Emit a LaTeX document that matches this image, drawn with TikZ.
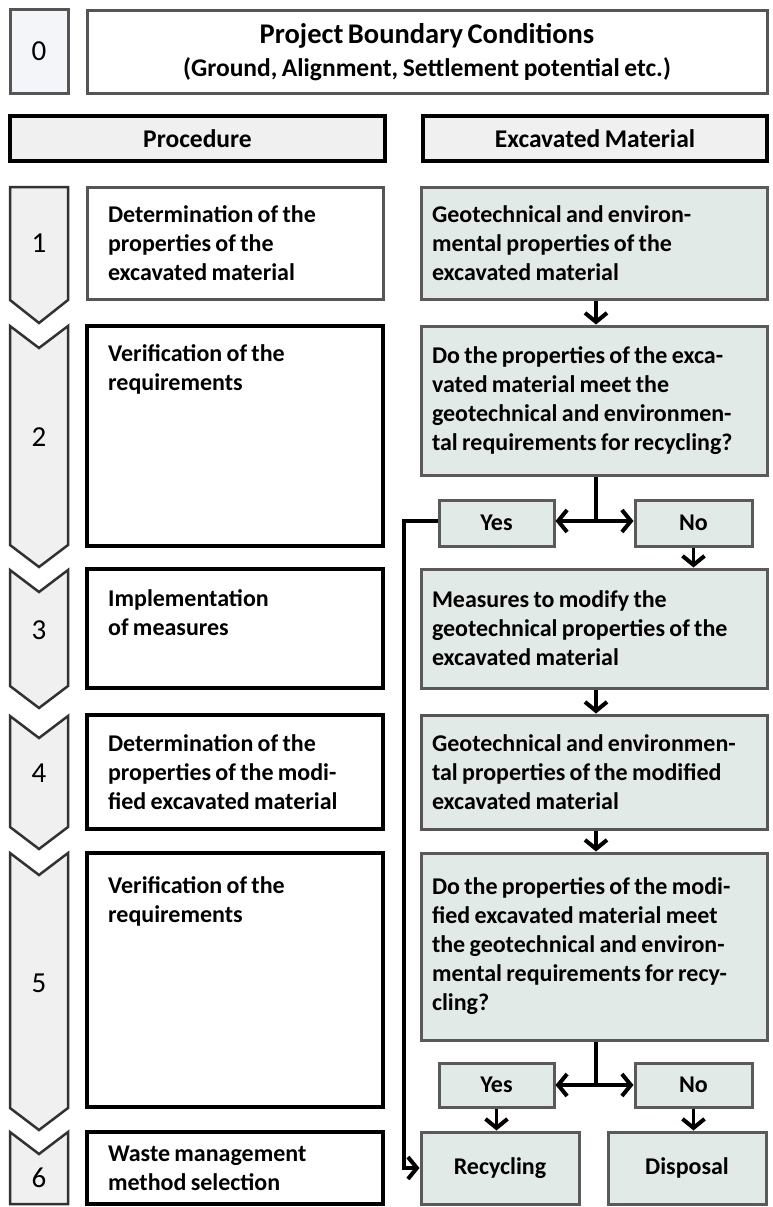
\documentclass[tikz,border=0pt]{standalone}
\usepackage{fontspec}
\setmainfont{Carlito}
\usetikzlibrary{arrows.meta,calc}
\definecolor{framegray}{RGB}{85,85,85}
\definecolor{chevfill}{RGB}{240,240,240}
\definecolor{chevline}{RGB}{50,50,50}
\definecolor{headfill}{RGB}{240,240,240}
\definecolor{zerofill}{RGB}{243,245,248}
\definecolor{matfill}{RGB}{225,234,231}
\definecolor{matline}{RGB}{90,90,90}
\newcommand\tightwords{\spaceskip=0.18em plus 0.05em\relax}
\begin{document}
\begin{tikzpicture}[x=1pt,y=-1pt,
  txt/.style={font=\bfseries\fontsize{24}{29}\selectfont, text=black,
    execute at begin node=\tightwords},
  bigtxt/.style={font=\bfseries\fontsize{25.5}{29}\selectfont},
  num/.style={font=\fontsize{29}{30}\selectfont, text=black},
  graybox/.style={draw=framegray, line width=3pt, fill=white, inner sep=0pt},
  headbox/.style={draw=black, line width=4pt, fill=headfill, txt, bigtxt, inner sep=0pt},
  procbox/.style={draw=black, line width=4pt, fill=white, txt, minimum width=296pt,
    inner xsep=21pt, text width=254pt, align=left},
  matbox/.style={draw=matline, line width=3pt, fill=matfill, txt, minimum width=346pt,
    inner xsep=11pt, text width=324pt, align=left},
  choice/.style={draw=matline, line width=3pt, fill=matfill, txt, inner sep=0pt},
  chev/.style={draw=chevline, line width=2.5pt, fill=chevfill, line join=miter},
  toptext/.style={txt, anchor=north west, inner sep=0pt, align=left},
  link/.style={draw=black, line width=3.5pt},
  arr/.style={link, -{Straight Barb[length=9pt,width=22pt,line width=4pt]}}
]
\useasboundingbox (0,0) rectangle (772,1207);

% --- top row: project boundary conditions
\node[graybox, fill=zerofill, minimum width=58pt, minimum height=83pt, num] (zero) at (39,51.5) {0};
\node[graybox, minimum width=680pt, minimum height=83pt, txt, bigtxt, align=center] (proj) at (427,52)
  {{\fontsize{28.5}{30}\selectfont Project Boundary Conditions}\\[4pt](Ground, Alignment, Settlement potential etc.)};

% --- column headers
\node[headbox, minimum width=375pt, minimum height=45pt] (hproc) at (197.5,138.5) {Procedure};
\node[headbox, minimum width=344pt, minimum height=45pt] (hmat) at (595,138.5) {Excavated Material};

% --- step chevrons
\draw[chev] (10,187) -- (68,187) -- (68,300) -- (39,323) -- (10,300) -- cycle;
\draw[chev] (10,326) -- (39,348) -- (68,326) -- (68,545) -- (39,567) -- (10,545) -- cycle;
\draw[chev] (10,570) -- (39,592) -- (68,570) -- (68,686) -- (39,708) -- (10,686) -- cycle;
\draw[chev] (10,716) -- (39,738) -- (68,716) -- (68,827) -- (39,849) -- (10,827) -- cycle;
\draw[chev] (10,853) -- (39,875) -- (68,853) -- (68,1108) -- (39,1130) -- (10,1108) -- cycle;
\draw[chev] (10,1132) -- (39,1154) -- (68,1132) -- (68,1204) -- (10,1204) -- cycle;
\node[num] (n1) at (39,243) {1};
\node[num] (n2) at (39,437) {2};
\node[num] (n3) at (39,630) {3};
\node[num] (n4) at (39,773) {4};
\node[num] (n5) at (39,983) {5};
\node[num] (n6) at (39,1178) {6};

% --- procedure column
\node[procbox, draw=framegray, line width=3pt, minimum height=112pt] (p1) at (235,243)
  {Determination of the\\properties of the\\excavated material};
\node[procbox, minimum height=220pt] (p2) at (235,436) {};
\node[toptext] (t2) at (108,344) {Verification of the\\requirements};
\node[procbox, minimum height=119pt] (p3) at (235,628.5) {};
\node[toptext] (t3) at (108,589) {Implementation\\of measures};
\node[procbox, minimum height=114pt] (p4) at (235,772)
  {Determination of the\\properties of the modi-\\fied excavated material};
\node[procbox, minimum height=254pt] (p5) at (235,980) {};
\node[toptext] (t5) at (108,876) {Verification of the\\requirements};
\node[procbox, minimum height=72pt] (p6) at (235,1168)
  {Waste management\\method selection};

% --- excavated material column
\node[matbox, minimum height=112pt] (r1) at (594,243)
  {Geotechnical and environ-\\mental properties of the\\excavated material};
\node[matbox, minimum height=149pt] (r2) at (594,400.5)
  {Do the properties of the exca-\\vated material meet the\\geotechnical and environmen-\\tal requirements for recycling?};
\node[choice, minimum width=115pt, minimum height=46pt] (yes1) at (496.5,523) {Yes};
\node[choice, minimum width=117pt, minimum height=46pt] (no1) at (693.5,523) {No};
\node[matbox, minimum height=119pt] (r3) at (594,628.5)
  {Measures to modify the\\geotechnical properties of the\\excavated material};
\node[matbox, draw=framegray, minimum height=114pt] (r4) at (594,772)
  {Geotechnical and environmen-\\tal properties of the modified\\excavated material};
\node[matbox, minimum height=187pt] (r5) at (594,946.5)
  {Do the properties of the modi-\\fied excavated material meet\\the geotechnical and environ-\\mental requirements for recy-\\cling?};
\node[choice, minimum width=115pt, minimum height=44pt] (yes2) at (496.5,1085) {Yes};
\node[choice, minimum width=117pt, minimum height=44pt] (no2) at (693.5,1085) {No};
\node[choice, minimum width=158pt, minimum height=72pt] (rec) at (500,1168) {Recycling};
\node[choice, minimum width=158pt, minimum height=72pt] (disp) at (687,1168) {Disposal};

% --- connectors
\coordinate (s1) at (596,521);
\coordinate (s2) at (596,1085);
\draw[arr] (r1.south -| s1) -- (r2.north -| s1);
\draw[link] (r2.south -| s1) -- (s1);
\draw[arr] (s1) -- (s1 -| yes1.east);
\draw[arr] (s1) -- (s1 -| no1.west);
\draw[arr] (no1.south) -- (no1.south |- r3.north);
\draw[arr] (r3.south -| s1) -- (r4.north -| s1);
\draw[arr] (r4.south -| s1) -- (r5.north -| s1);
\draw[link] (r5.south -| s2) -- (s2);
\draw[arr] (s2) -- (s2 -| yes2.east);
\draw[arr] (s2) -- (s2 -| no2.west);
\draw[arr] (yes2.south) -- (yes2.south |- rec.north);
\draw[arr] (no2.south) -- (no2.south |- disp.north);
\coordinate (bend) at (404,521);
\draw[arr] (s1 -| yes1.west) -- (bend) |- (rec.west);
\end{tikzpicture}
\end{document}
